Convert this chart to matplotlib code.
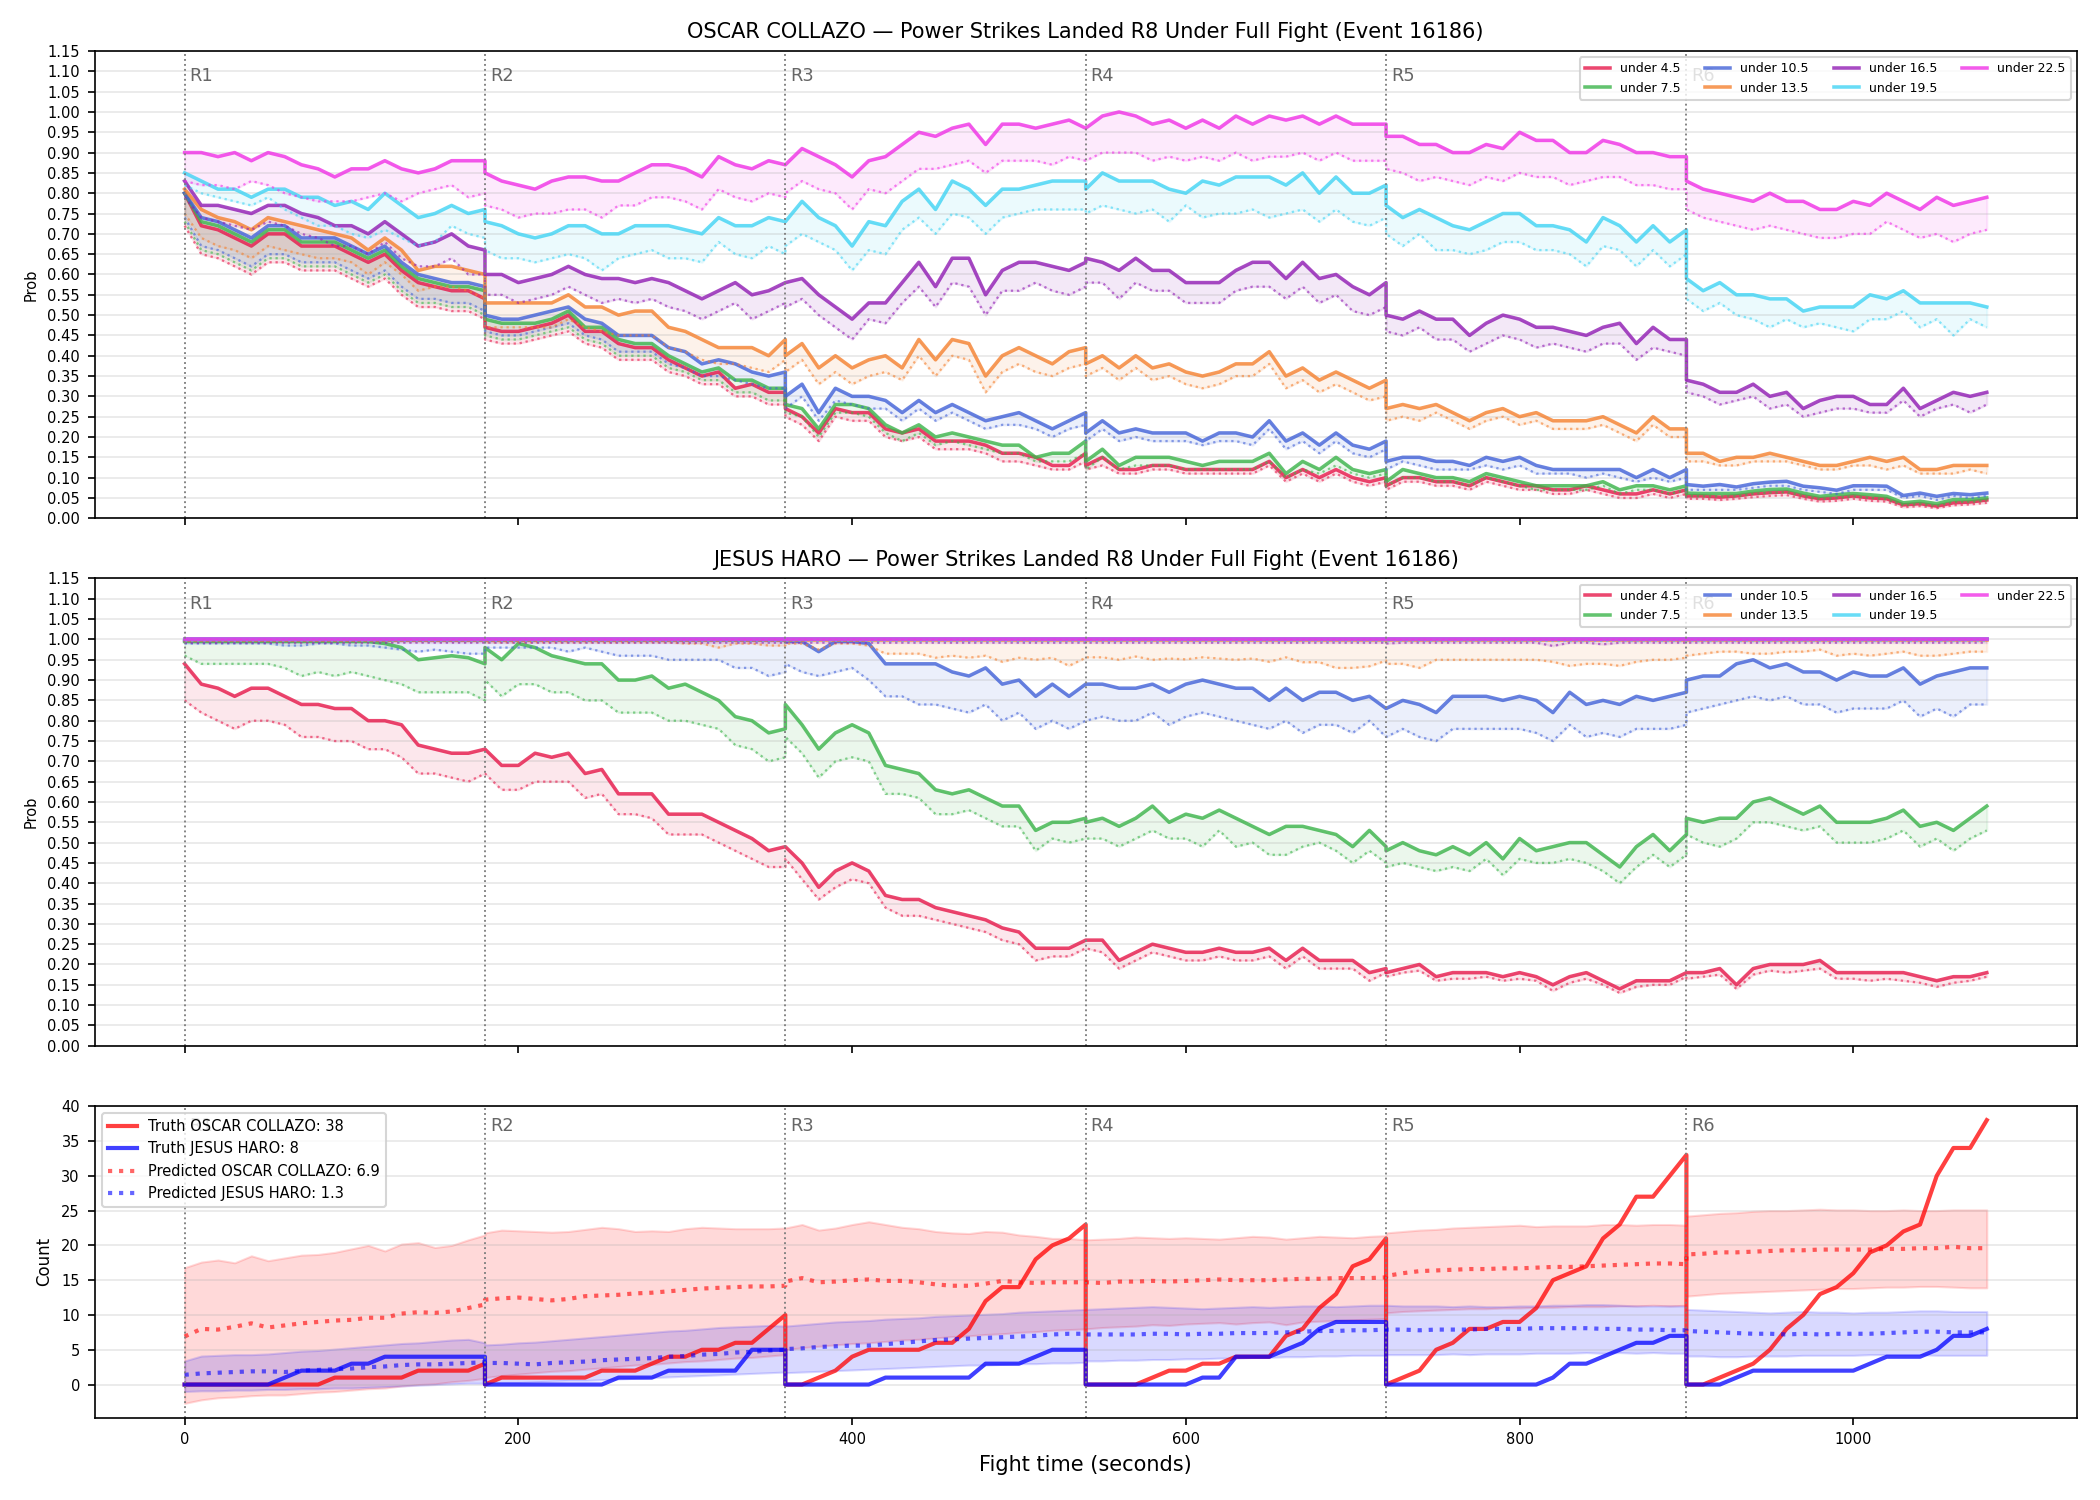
import numpy as np
import matplotlib
matplotlib.use("Agg")
import matplotlib.pyplot as plt
import matplotlib.transforms as mtransforms
from matplotlib.ticker import FormatStrFormatter

# sample times: every round is sampled 0..180 s every 10 s, restarting at the boundary
round_starts = [0, 180, 360, 540, 720, 900]
t = np.concatenate([s + np.arange(0, 181, 10) for s in round_starts])

thresholds = ["under 4.5", "under 7.5", "under 10.5", "under 13.5",
              "under 16.5", "under 19.5", "under 22.5"]
colors = ["#e6194b", "#3cb44b", "#4363d8", "#f58231", "#911eb4", "#42d4f4", "#f032e6"]

# ---------------- OSCAR COLLAZO: probability of staying under each line ----------------
oscar_u45 = [
    [0.80, 0.72, 0.71, 0.69, 0.67, 0.70, 0.70, 0.67, 0.67, 0.67, 0.65, 0.63, 0.65, 0.61, 0.58, 0.57, 0.56, 0.56, 0.54],
    [0.47, 0.46, 0.46, 0.47, 0.48, 0.50, 0.46, 0.46, 0.43, 0.42, 0.42, 0.39, 0.37, 0.35, 0.36, 0.32, 0.33, 0.31, 0.31],
    [0.27, 0.25, 0.21, 0.27, 0.26, 0.26, 0.22, 0.21, 0.22, 0.19, 0.19, 0.19, 0.18, 0.16, 0.16, 0.15, 0.13, 0.13, 0.16],
    [0.13, 0.15, 0.12, 0.12, 0.13, 0.13, 0.12, 0.12, 0.12, 0.12, 0.12, 0.14, 0.10, 0.12, 0.10, 0.12, 0.10, 0.09, 0.10],
    [0.08, 0.10, 0.10, 0.09, 0.09, 0.08, 0.10, 0.09, 0.08, 0.08, 0.07, 0.07, 0.08, 0.07, 0.06, 0.06, 0.07, 0.06, 0.07],
    [0.055, 0.055, 0.052, 0.055, 0.06, 0.063, 0.065, 0.055, 0.048, 0.05, 0.055, 0.05, 0.048, 0.033, 0.036, 0.03, 0.038, 0.04, 0.045],
]
oscar_u45_lo = [
    [0.72, 0.65, 0.64, 0.62, 0.60, 0.63, 0.63, 0.61, 0.61, 0.61, 0.59, 0.57, 0.59, 0.55, 0.52, 0.52, 0.51, 0.51, 0.49],
    [0.44, 0.43, 0.43, 0.44, 0.45, 0.46, 0.43, 0.42, 0.39, 0.39, 0.39, 0.36, 0.35, 0.33, 0.33, 0.30, 0.30, 0.28, 0.28],
    [0.25, 0.23, 0.19, 0.25, 0.24, 0.24, 0.20, 0.19, 0.20, 0.17, 0.17, 0.17, 0.16, 0.14, 0.14, 0.13, 0.12, 0.12, 0.14],
    [0.12, 0.13, 0.11, 0.11, 0.12, 0.12, 0.11, 0.11, 0.11, 0.11, 0.11, 0.13, 0.09, 0.11, 0.09, 0.11, 0.09, 0.08, 0.09],
    [0.07, 0.09, 0.09, 0.08, 0.08, 0.07, 0.09, 0.08, 0.07, 0.07, 0.06, 0.06, 0.07, 0.06, 0.05, 0.05, 0.06, 0.05, 0.06],
    [0.048, 0.048, 0.045, 0.048, 0.052, 0.055, 0.057, 0.048, 0.041, 0.043, 0.048, 0.043, 0.041, 0.027, 0.03, 0.025, 0.032, 0.034, 0.038],
]
oscar_u75 = [
    [0.80, 0.73, 0.72, 0.70, 0.68, 0.71, 0.71, 0.68, 0.68, 0.68, 0.66, 0.64, 0.66, 0.62, 0.59, 0.58, 0.57, 0.57, 0.56],
    [0.49, 0.48, 0.48, 0.48, 0.49, 0.51, 0.47, 0.47, 0.44, 0.43, 0.43, 0.40, 0.38, 0.36, 0.37, 0.34, 0.34, 0.32, 0.32],
    [0.28, 0.27, 0.22, 0.28, 0.28, 0.27, 0.23, 0.21, 0.23, 0.20, 0.21, 0.20, 0.19, 0.18, 0.18, 0.15, 0.16, 0.16, 0.19],
    [0.14, 0.17, 0.13, 0.15, 0.15, 0.15, 0.14, 0.13, 0.14, 0.14, 0.14, 0.16, 0.11, 0.14, 0.12, 0.15, 0.12, 0.11, 0.12],
    [0.09, 0.12, 0.11, 0.10, 0.10, 0.09, 0.11, 0.10, 0.09, 0.08, 0.08, 0.08, 0.08, 0.09, 0.07, 0.08, 0.08, 0.07, 0.08],
    [0.062, 0.061, 0.061, 0.061, 0.067, 0.071, 0.072, 0.062, 0.054, 0.058, 0.061, 0.058, 0.054, 0.038, 0.042, 0.036, 0.046, 0.046, 0.05],
]
oscar_u75_lo = [
    [0.73, 0.66, 0.65, 0.63, 0.61, 0.64, 0.64, 0.62, 0.62, 0.62, 0.60, 0.58, 0.60, 0.56, 0.53, 0.53, 0.52, 0.52, 0.50],
    [0.45, 0.44, 0.44, 0.45, 0.46, 0.47, 0.44, 0.43, 0.40, 0.40, 0.40, 0.37, 0.36, 0.34, 0.34, 0.31, 0.31, 0.29, 0.29],
    [0.26, 0.25, 0.20, 0.26, 0.26, 0.25, 0.21, 0.19, 0.21, 0.18, 0.19, 0.18, 0.17, 0.16, 0.16, 0.14, 0.14, 0.14, 0.16],
    [0.12, 0.15, 0.12, 0.13, 0.13, 0.13, 0.12, 0.12, 0.12, 0.12, 0.12, 0.14, 0.10, 0.12, 0.11, 0.13, 0.11, 0.10, 0.11],
    [0.08, 0.10, 0.10, 0.09, 0.09, 0.08, 0.10, 0.09, 0.08, 0.07, 0.07, 0.07, 0.07, 0.08, 0.06, 0.07, 0.07, 0.06, 0.07],
    [0.055, 0.054, 0.054, 0.054, 0.06, 0.063, 0.064, 0.055, 0.047, 0.05, 0.054, 0.05, 0.047, 0.032, 0.035, 0.03, 0.04, 0.04, 0.044],
]
oscar_u105 = [
    [0.80, 0.74, 0.73, 0.71, 0.69, 0.72, 0.72, 0.69, 0.69, 0.69, 0.67, 0.65, 0.67, 0.63, 0.60, 0.59, 0.58, 0.58, 0.57],
    [0.50, 0.49, 0.49, 0.50, 0.51, 0.52, 0.49, 0.48, 0.45, 0.45, 0.45, 0.42, 0.41, 0.38, 0.39, 0.38, 0.36, 0.35, 0.36],
    [0.30, 0.33, 0.26, 0.32, 0.30, 0.30, 0.29, 0.26, 0.29, 0.26, 0.28, 0.26, 0.24, 0.25, 0.26, 0.24, 0.22, 0.24, 0.26],
    [0.21, 0.24, 0.21, 0.22, 0.21, 0.21, 0.21, 0.19, 0.21, 0.21, 0.20, 0.24, 0.19, 0.21, 0.18, 0.21, 0.18, 0.17, 0.19],
    [0.14, 0.15, 0.15, 0.14, 0.14, 0.13, 0.15, 0.14, 0.15, 0.13, 0.12, 0.12, 0.12, 0.12, 0.12, 0.10, 0.12, 0.10, 0.12],
    [0.083, 0.079, 0.083, 0.077, 0.085, 0.089, 0.091, 0.079, 0.075, 0.069, 0.08, 0.08, 0.079, 0.056, 0.062, 0.054, 0.061, 0.058, 0.062],
]
oscar_u105_lo = [
    [0.74, 0.67, 0.66, 0.64, 0.62, 0.65, 0.65, 0.63, 0.63, 0.63, 0.61, 0.59, 0.61, 0.57, 0.54, 0.54, 0.53, 0.53, 0.51],
    [0.46, 0.45, 0.45, 0.46, 0.47, 0.48, 0.45, 0.44, 0.41, 0.41, 0.41, 0.38, 0.37, 0.35, 0.35, 0.34, 0.33, 0.32, 0.32],
    [0.27, 0.30, 0.24, 0.29, 0.28, 0.27, 0.27, 0.24, 0.27, 0.24, 0.26, 0.24, 0.22, 0.23, 0.23, 0.22, 0.20, 0.22, 0.23],
    [0.19, 0.22, 0.19, 0.20, 0.19, 0.19, 0.19, 0.18, 0.19, 0.19, 0.18, 0.22, 0.17, 0.19, 0.16, 0.19, 0.16, 0.15, 0.17],
    [0.12, 0.14, 0.13, 0.12, 0.12, 0.12, 0.13, 0.12, 0.13, 0.11, 0.11, 0.11, 0.10, 0.11, 0.10, 0.09, 0.10, 0.09, 0.10],
    [0.07, 0.07, 0.07, 0.07, 0.075, 0.08, 0.08, 0.07, 0.065, 0.06, 0.07, 0.07, 0.07, 0.05, 0.055, 0.045, 0.055, 0.05, 0.055],
]
oscar_u135 = [
    [0.81, 0.76, 0.74, 0.73, 0.71, 0.74, 0.73, 0.72, 0.71, 0.70, 0.69, 0.66, 0.69, 0.66, 0.61, 0.62, 0.62, 0.61, 0.60],
    [0.53, 0.53, 0.53, 0.53, 0.53, 0.55, 0.52, 0.52, 0.50, 0.51, 0.51, 0.47, 0.46, 0.44, 0.42, 0.42, 0.42, 0.40, 0.44],
    [0.40, 0.43, 0.37, 0.40, 0.37, 0.39, 0.40, 0.37, 0.44, 0.39, 0.44, 0.43, 0.35, 0.40, 0.42, 0.40, 0.38, 0.41, 0.42],
    [0.38, 0.40, 0.37, 0.40, 0.37, 0.38, 0.36, 0.35, 0.36, 0.38, 0.38, 0.41, 0.35, 0.37, 0.34, 0.36, 0.34, 0.32, 0.34],
    [0.27, 0.28, 0.27, 0.28, 0.26, 0.24, 0.26, 0.27, 0.25, 0.26, 0.24, 0.24, 0.24, 0.25, 0.23, 0.21, 0.25, 0.22, 0.22],
    [0.16, 0.16, 0.14, 0.15, 0.15, 0.16, 0.15, 0.14, 0.13, 0.13, 0.14, 0.15, 0.14, 0.15, 0.12, 0.12, 0.13, 0.13, 0.13],
]
oscar_u135_lo = [
    [0.75, 0.69, 0.67, 0.66, 0.64, 0.67, 0.66, 0.65, 0.64, 0.64, 0.63, 0.60, 0.63, 0.60, 0.56, 0.57, 0.57, 0.56, 0.54],
    [0.47, 0.47, 0.47, 0.47, 0.47, 0.49, 0.47, 0.46, 0.45, 0.45, 0.45, 0.42, 0.41, 0.39, 0.38, 0.38, 0.37, 0.36, 0.39],
    [0.36, 0.39, 0.33, 0.36, 0.33, 0.35, 0.36, 0.34, 0.40, 0.35, 0.40, 0.39, 0.31, 0.36, 0.38, 0.36, 0.35, 0.37, 0.38],
    [0.35, 0.37, 0.34, 0.37, 0.34, 0.35, 0.33, 0.32, 0.33, 0.35, 0.35, 0.38, 0.32, 0.34, 0.31, 0.33, 0.31, 0.29, 0.30],
    [0.24, 0.25, 0.24, 0.26, 0.24, 0.22, 0.24, 0.25, 0.23, 0.24, 0.22, 0.22, 0.22, 0.23, 0.21, 0.19, 0.23, 0.20, 0.20],
    [0.14, 0.14, 0.13, 0.13, 0.14, 0.14, 0.14, 0.13, 0.12, 0.12, 0.13, 0.13, 0.12, 0.13, 0.11, 0.11, 0.11, 0.12, 0.11],
]
oscar_u165 = [
    [0.83, 0.77, 0.77, 0.76, 0.75, 0.77, 0.77, 0.75, 0.74, 0.72, 0.72, 0.70, 0.73, 0.70, 0.67, 0.68, 0.70, 0.67, 0.66],
    [0.60, 0.60, 0.58, 0.59, 0.60, 0.62, 0.60, 0.59, 0.59, 0.58, 0.59, 0.58, 0.56, 0.54, 0.56, 0.58, 0.55, 0.56, 0.58],
    [0.58, 0.59, 0.55, 0.52, 0.49, 0.53, 0.53, 0.58, 0.63, 0.57, 0.64, 0.64, 0.55, 0.61, 0.63, 0.63, 0.62, 0.61, 0.63],
    [0.64, 0.63, 0.61, 0.64, 0.61, 0.61, 0.58, 0.58, 0.58, 0.61, 0.63, 0.63, 0.59, 0.63, 0.59, 0.60, 0.57, 0.55, 0.58],
    [0.50, 0.49, 0.51, 0.49, 0.49, 0.45, 0.48, 0.50, 0.49, 0.47, 0.47, 0.46, 0.45, 0.47, 0.48, 0.43, 0.47, 0.44, 0.44],
    [0.34, 0.33, 0.31, 0.31, 0.33, 0.30, 0.31, 0.27, 0.29, 0.30, 0.30, 0.28, 0.28, 0.32, 0.27, 0.29, 0.31, 0.30, 0.31],
]
oscar_u165_lo = [
    [0.79, 0.74, 0.73, 0.72, 0.71, 0.73, 0.72, 0.70, 0.69, 0.67, 0.67, 0.65, 0.68, 0.64, 0.62, 0.62, 0.64, 0.60, 0.60],
    [0.55, 0.55, 0.53, 0.54, 0.55, 0.57, 0.55, 0.53, 0.54, 0.53, 0.54, 0.52, 0.51, 0.49, 0.51, 0.53, 0.49, 0.51, 0.53],
    [0.52, 0.54, 0.50, 0.47, 0.44, 0.49, 0.48, 0.53, 0.57, 0.52, 0.58, 0.57, 0.50, 0.56, 0.56, 0.58, 0.56, 0.55, 0.57],
    [0.58, 0.58, 0.54, 0.58, 0.56, 0.56, 0.53, 0.53, 0.53, 0.56, 0.57, 0.57, 0.54, 0.57, 0.53, 0.55, 0.51, 0.50, 0.52],
    [0.46, 0.45, 0.47, 0.44, 0.44, 0.41, 0.43, 0.45, 0.44, 0.42, 0.43, 0.42, 0.41, 0.43, 0.43, 0.39, 0.42, 0.41, 0.40],
    [0.31, 0.30, 0.28, 0.29, 0.30, 0.27, 0.28, 0.25, 0.26, 0.27, 0.27, 0.26, 0.26, 0.29, 0.25, 0.27, 0.28, 0.26, 0.28],
]
oscar_u195 = [
    [0.85, 0.83, 0.81, 0.81, 0.79, 0.81, 0.81, 0.79, 0.79, 0.77, 0.78, 0.76, 0.80, 0.77, 0.74, 0.75, 0.77, 0.75, 0.76],
    [0.73, 0.72, 0.70, 0.69, 0.70, 0.72, 0.72, 0.70, 0.70, 0.72, 0.72, 0.72, 0.71, 0.70, 0.74, 0.72, 0.72, 0.74, 0.73],
    [0.73, 0.78, 0.74, 0.72, 0.67, 0.73, 0.72, 0.78, 0.81, 0.76, 0.83, 0.81, 0.77, 0.81, 0.81, 0.82, 0.83, 0.83, 0.83],
    [0.81, 0.85, 0.83, 0.83, 0.83, 0.81, 0.80, 0.83, 0.82, 0.84, 0.84, 0.84, 0.82, 0.85, 0.80, 0.84, 0.80, 0.80, 0.82],
    [0.77, 0.74, 0.76, 0.74, 0.72, 0.71, 0.73, 0.75, 0.75, 0.72, 0.72, 0.71, 0.68, 0.74, 0.72, 0.68, 0.72, 0.68, 0.71],
    [0.59, 0.56, 0.58, 0.55, 0.55, 0.54, 0.54, 0.51, 0.52, 0.52, 0.52, 0.55, 0.54, 0.56, 0.53, 0.53, 0.53, 0.53, 0.52],
]
oscar_u195_lo = [
    [0.82, 0.80, 0.79, 0.78, 0.77, 0.79, 0.76, 0.74, 0.72, 0.72, 0.70, 0.69, 0.71, 0.69, 0.67, 0.68, 0.72, 0.70, 0.69],
    [0.66, 0.64, 0.64, 0.63, 0.64, 0.65, 0.64, 0.61, 0.64, 0.65, 0.66, 0.64, 0.64, 0.63, 0.68, 0.65, 0.64, 0.67, 0.65],
    [0.67, 0.70, 0.68, 0.66, 0.61, 0.66, 0.65, 0.71, 0.74, 0.70, 0.75, 0.74, 0.70, 0.74, 0.75, 0.76, 0.76, 0.76, 0.76],
    [0.75, 0.77, 0.76, 0.75, 0.76, 0.73, 0.77, 0.74, 0.75, 0.75, 0.76, 0.74, 0.75, 0.76, 0.73, 0.76, 0.73, 0.72, 0.74],
    [0.70, 0.67, 0.70, 0.66, 0.66, 0.65, 0.66, 0.68, 0.68, 0.66, 0.66, 0.65, 0.62, 0.67, 0.66, 0.62, 0.66, 0.62, 0.65],
    [0.54, 0.51, 0.53, 0.50, 0.49, 0.47, 0.49, 0.47, 0.48, 0.47, 0.46, 0.49, 0.49, 0.51, 0.47, 0.49, 0.45, 0.49, 0.47],
]
oscar_u225 = [
    [0.90, 0.90, 0.89, 0.90, 0.88, 0.90, 0.89, 0.87, 0.86, 0.84, 0.86, 0.86, 0.88, 0.86, 0.85, 0.86, 0.88, 0.88, 0.88],
    [0.85, 0.83, 0.82, 0.81, 0.83, 0.84, 0.84, 0.83, 0.83, 0.85, 0.87, 0.87, 0.86, 0.84, 0.89, 0.87, 0.86, 0.88, 0.87],
    [0.87, 0.91, 0.89, 0.87, 0.84, 0.88, 0.89, 0.92, 0.95, 0.94, 0.96, 0.97, 0.92, 0.97, 0.97, 0.96, 0.97, 0.98, 0.96],
    [0.96, 0.99, 1.00, 0.99, 0.97, 0.98, 0.96, 0.98, 0.96, 0.99, 0.97, 0.99, 0.98, 0.99, 0.97, 0.99, 0.97, 0.97, 0.97],
    [0.94, 0.94, 0.92, 0.92, 0.90, 0.90, 0.92, 0.91, 0.95, 0.93, 0.93, 0.90, 0.90, 0.93, 0.92, 0.90, 0.90, 0.89, 0.89],
    [0.83, 0.81, 0.80, 0.79, 0.78, 0.80, 0.78, 0.78, 0.76, 0.76, 0.78, 0.77, 0.80, 0.78, 0.76, 0.79, 0.77, 0.78, 0.79],
]
oscar_u225_lo = [
    [0.83, 0.82, 0.82, 0.81, 0.83, 0.82, 0.80, 0.79, 0.78, 0.78, 0.78, 0.79, 0.80, 0.78, 0.80, 0.81, 0.82, 0.79, 0.80],
    [0.77, 0.76, 0.74, 0.75, 0.75, 0.76, 0.76, 0.74, 0.77, 0.77, 0.79, 0.79, 0.78, 0.76, 0.81, 0.79, 0.78, 0.80, 0.79],
    [0.80, 0.83, 0.81, 0.80, 0.76, 0.81, 0.80, 0.83, 0.86, 0.86, 0.87, 0.88, 0.85, 0.88, 0.88, 0.88, 0.87, 0.89, 0.88],
    [0.88, 0.90, 0.90, 0.90, 0.88, 0.89, 0.88, 0.89, 0.88, 0.90, 0.88, 0.89, 0.89, 0.90, 0.88, 0.90, 0.88, 0.88, 0.88],
    [0.86, 0.85, 0.83, 0.84, 0.83, 0.82, 0.84, 0.83, 0.85, 0.84, 0.84, 0.82, 0.83, 0.84, 0.84, 0.82, 0.82, 0.81, 0.81],
    [0.76, 0.74, 0.73, 0.72, 0.71, 0.72, 0.71, 0.70, 0.69, 0.69, 0.70, 0.70, 0.73, 0.71, 0.69, 0.70, 0.68, 0.70, 0.71],
]

# ---------------- JESUS HARO ----------------
haro_u45 = [
    [0.94, 0.89, 0.88, 0.86, 0.88, 0.88, 0.86, 0.84, 0.84, 0.83, 0.83, 0.80, 0.80, 0.79, 0.74, 0.73, 0.72, 0.72, 0.73],
    [0.73, 0.69, 0.69, 0.72, 0.71, 0.72, 0.67, 0.68, 0.62, 0.62, 0.62, 0.57, 0.57, 0.57, 0.55, 0.53, 0.51, 0.48, 0.49],
    [0.49, 0.45, 0.39, 0.43, 0.45, 0.43, 0.37, 0.36, 0.36, 0.34, 0.33, 0.32, 0.31, 0.29, 0.28, 0.24, 0.24, 0.24, 0.26],
    [0.26, 0.26, 0.21, 0.23, 0.25, 0.24, 0.23, 0.23, 0.24, 0.23, 0.23, 0.24, 0.21, 0.24, 0.21, 0.21, 0.21, 0.18, 0.19],
    [0.18, 0.19, 0.20, 0.17, 0.18, 0.18, 0.18, 0.17, 0.18, 0.17, 0.15, 0.17, 0.18, 0.16, 0.14, 0.16, 0.16, 0.16, 0.18],
    [0.18, 0.18, 0.19, 0.15, 0.19, 0.20, 0.20, 0.20, 0.21, 0.18, 0.18, 0.18, 0.18, 0.18, 0.17, 0.16, 0.17, 0.17, 0.18],
]
haro_u45_lo = [
    [0.85, 0.82, 0.80, 0.78, 0.80, 0.80, 0.79, 0.76, 0.76, 0.75, 0.75, 0.73, 0.73, 0.71, 0.67, 0.67, 0.66, 0.65, 0.67],
    [0.67, 0.63, 0.63, 0.65, 0.65, 0.65, 0.61, 0.62, 0.57, 0.57, 0.56, 0.52, 0.52, 0.52, 0.50, 0.48, 0.46, 0.44, 0.44],
    [0.46, 0.41, 0.36, 0.39, 0.41, 0.40, 0.34, 0.32, 0.32, 0.31, 0.30, 0.29, 0.28, 0.26, 0.25, 0.21, 0.22, 0.22, 0.24],
    [0.24, 0.23, 0.19, 0.21, 0.23, 0.22, 0.21, 0.21, 0.22, 0.21, 0.21, 0.22, 0.19, 0.22, 0.19, 0.19, 0.19, 0.16, 0.18],
    [0.17, 0.18, 0.185, 0.16, 0.165, 0.165, 0.17, 0.16, 0.165, 0.16, 0.135, 0.155, 0.165, 0.15, 0.13, 0.145, 0.15, 0.15, 0.17],
    [0.165, 0.17, 0.175, 0.14, 0.175, 0.185, 0.18, 0.185, 0.19, 0.165, 0.165, 0.16, 0.165, 0.16, 0.155, 0.145, 0.155, 0.16, 0.17],
]
haro_u75 = [
    [0.995, 0.995, 0.995, 0.995, 0.995, 0.995, 0.995, 0.995, 0.995, 0.995, 0.995, 0.995, 0.99, 0.98, 0.95, 0.955, 0.96, 0.955, 0.94],
    [0.98, 0.95, 0.99, 0.98, 0.96, 0.95, 0.94, 0.94, 0.90, 0.90, 0.91, 0.88, 0.89, 0.87, 0.85, 0.81, 0.80, 0.77, 0.78],
    [0.84, 0.79, 0.73, 0.77, 0.79, 0.77, 0.69, 0.68, 0.67, 0.63, 0.62, 0.63, 0.61, 0.59, 0.59, 0.53, 0.55, 0.55, 0.56],
    [0.55, 0.56, 0.54, 0.56, 0.59, 0.55, 0.57, 0.56, 0.58, 0.56, 0.54, 0.52, 0.54, 0.54, 0.53, 0.52, 0.49, 0.53, 0.49],
    [0.48, 0.50, 0.48, 0.47, 0.49, 0.47, 0.50, 0.46, 0.51, 0.48, 0.49, 0.50, 0.50, 0.47, 0.44, 0.49, 0.52, 0.48, 0.52],
    [0.56, 0.55, 0.56, 0.56, 0.60, 0.61, 0.59, 0.57, 0.59, 0.55, 0.55, 0.55, 0.56, 0.58, 0.54, 0.55, 0.53, 0.56, 0.59],
]
haro_u75_lo = [
    [0.96, 0.94, 0.94, 0.94, 0.94, 0.94, 0.93, 0.91, 0.92, 0.91, 0.92, 0.91, 0.90, 0.89, 0.87, 0.87, 0.87, 0.87, 0.85],
    [0.90, 0.86, 0.89, 0.89, 0.87, 0.87, 0.85, 0.85, 0.82, 0.82, 0.82, 0.80, 0.80, 0.79, 0.78, 0.74, 0.73, 0.70, 0.71],
    [0.76, 0.72, 0.66, 0.70, 0.71, 0.70, 0.62, 0.62, 0.61, 0.57, 0.57, 0.58, 0.56, 0.54, 0.54, 0.48, 0.51, 0.50, 0.51],
    [0.51, 0.51, 0.49, 0.51, 0.53, 0.51, 0.51, 0.49, 0.53, 0.49, 0.50, 0.47, 0.47, 0.49, 0.50, 0.48, 0.45, 0.48, 0.45],
    [0.44, 0.45, 0.44, 0.43, 0.44, 0.43, 0.46, 0.42, 0.46, 0.45, 0.45, 0.46, 0.45, 0.43, 0.40, 0.44, 0.47, 0.44, 0.47],
    [0.52, 0.50, 0.49, 0.51, 0.55, 0.55, 0.54, 0.53, 0.54, 0.50, 0.50, 0.50, 0.51, 0.53, 0.49, 0.51, 0.48, 0.51, 0.53],
]
haro_u105 = [
    [0.998, 0.998, 0.998, 0.998, 0.998, 0.998, 0.998, 0.998, 0.998, 0.998, 0.998, 0.998, 0.998, 0.998, 0.998, 0.998, 0.998, 0.998, 0.998],
    [0.998, 0.998, 0.998, 0.998, 0.998, 0.998, 0.998, 0.998, 0.998, 0.998, 0.998, 0.998, 0.998, 0.998, 0.998, 0.998, 0.998, 0.998, 0.998],
    [0.995, 0.995, 0.97, 0.995, 0.995, 0.99, 0.94, 0.94, 0.94, 0.94, 0.92, 0.91, 0.93, 0.89, 0.90, 0.86, 0.89, 0.86, 0.89],
    [0.89, 0.89, 0.88, 0.88, 0.89, 0.87, 0.89, 0.90, 0.89, 0.88, 0.88, 0.85, 0.88, 0.85, 0.87, 0.87, 0.85, 0.86, 0.83],
    [0.83, 0.85, 0.84, 0.82, 0.86, 0.86, 0.86, 0.85, 0.86, 0.85, 0.82, 0.87, 0.84, 0.85, 0.84, 0.86, 0.85, 0.86, 0.87],
    [0.90, 0.91, 0.91, 0.94, 0.95, 0.93, 0.94, 0.92, 0.92, 0.90, 0.92, 0.91, 0.91, 0.93, 0.89, 0.91, 0.92, 0.93, 0.93],
]
haro_u105_lo = [
    [0.99, 0.99, 0.99, 0.99, 0.99, 0.99, 0.985, 0.985, 0.99, 0.99, 0.985, 0.985, 0.98, 0.975, 0.97, 0.975, 0.97, 0.965, 0.965],
    [0.98, 0.98, 0.98, 0.98, 0.98, 0.97, 0.98, 0.97, 0.96, 0.96, 0.96, 0.95, 0.95, 0.95, 0.95, 0.93, 0.93, 0.91, 0.92],
    [0.94, 0.92, 0.91, 0.92, 0.93, 0.90, 0.86, 0.86, 0.84, 0.84, 0.83, 0.82, 0.84, 0.80, 0.82, 0.78, 0.80, 0.78, 0.80],
    [0.80, 0.81, 0.80, 0.80, 0.82, 0.79, 0.81, 0.82, 0.81, 0.80, 0.79, 0.78, 0.80, 0.77, 0.79, 0.79, 0.77, 0.80, 0.76],
    [0.76, 0.78, 0.76, 0.75, 0.78, 0.78, 0.78, 0.78, 0.78, 0.77, 0.75, 0.79, 0.76, 0.77, 0.76, 0.78, 0.78, 0.78, 0.79],
    [0.82, 0.83, 0.84, 0.85, 0.86, 0.85, 0.86, 0.84, 0.84, 0.82, 0.83, 0.83, 0.83, 0.85, 0.81, 0.83, 0.81, 0.84, 0.84],
]
haro_u135 = [
    [0.999, 0.999, 0.999, 0.999, 0.999, 0.999, 0.999, 0.999, 0.999, 0.999, 0.999, 0.999, 0.999, 0.999, 0.999, 0.999, 0.999, 0.999, 0.999],
    [0.999, 0.999, 0.999, 0.999, 0.999, 0.999, 0.999, 0.999, 0.999, 0.999, 0.999, 0.999, 0.999, 0.999, 0.999, 0.999, 0.999, 0.999, 0.999],
    [0.999, 0.999, 0.999, 0.999, 0.999, 0.999, 0.999, 0.999, 0.999, 0.999, 0.999, 0.999, 0.999, 0.999, 0.999, 0.999, 0.999, 0.999, 0.999],
    [0.999, 0.999, 0.999, 0.999, 0.999, 0.999, 0.999, 0.999, 0.999, 0.999, 0.999, 0.999, 0.999, 0.999, 0.999, 0.999, 0.999, 0.999, 0.999],
    [0.999, 0.999, 0.999, 0.999, 0.999, 0.999, 0.999, 0.999, 0.999, 0.999, 0.999, 0.999, 0.999, 0.999, 0.999, 0.999, 0.999, 0.999, 0.999],
    [0.999, 0.999, 0.999, 0.999, 0.999, 0.999, 0.999, 0.999, 0.999, 0.999, 0.999, 0.999, 0.999, 0.999, 0.999, 0.999, 0.999, 0.999, 0.999],
]
haro_u135_lo = [
    [0.995, 0.995, 0.995, 0.995, 0.995, 0.995, 0.995, 0.995, 0.995, 0.995, 0.995, 0.995, 0.995, 0.995, 0.995, 0.995, 0.995, 0.995, 0.995],
    [0.993, 0.993, 0.993, 0.993, 0.993, 0.993, 0.993, 0.993, 0.993, 0.993, 0.993, 0.993, 0.99, 0.99, 0.98, 0.99, 0.99, 0.985, 0.985],
    [0.99, 0.99, 0.975, 0.99, 0.99, 0.985, 0.965, 0.965, 0.965, 0.955, 0.96, 0.955, 0.96, 0.945, 0.955, 0.95, 0.955, 0.935, 0.955],
    [0.956, 0.956, 0.95, 0.958, 0.95, 0.953, 0.951, 0.956, 0.953, 0.95, 0.953, 0.945, 0.956, 0.944, 0.944, 0.93, 0.93, 0.934, 0.948],
    [0.94, 0.94, 0.93, 0.95, 0.95, 0.95, 0.95, 0.95, 0.95, 0.95, 0.945, 0.935, 0.94, 0.94, 0.935, 0.945, 0.95, 0.95, 0.955],
    [0.96, 0.965, 0.97, 0.97, 0.965, 0.965, 0.97, 0.97, 0.975, 0.96, 0.965, 0.96, 0.965, 0.97, 0.96, 0.96, 0.965, 0.97, 0.97],
]
haro_u165 = [
    [1.0, 1.0, 1.0, 1.0, 1.0, 1.0, 1.0, 1.0, 1.0, 1.0, 1.0, 1.0, 1.0, 1.0, 1.0, 1.0, 1.0, 1.0, 1.0],
    [1.0, 1.0, 1.0, 1.0, 1.0, 1.0, 1.0, 1.0, 1.0, 1.0, 1.0, 1.0, 1.0, 1.0, 1.0, 1.0, 1.0, 1.0, 1.0],
    [1.0, 1.0, 1.0, 1.0, 1.0, 1.0, 1.0, 1.0, 1.0, 1.0, 1.0, 1.0, 1.0, 1.0, 1.0, 1.0, 1.0, 1.0, 1.0],
    [1.0, 1.0, 1.0, 1.0, 1.0, 1.0, 1.0, 1.0, 1.0, 1.0, 1.0, 1.0, 1.0, 1.0, 1.0, 1.0, 1.0, 1.0, 1.0],
    [1.0, 1.0, 1.0, 1.0, 1.0, 1.0, 1.0, 1.0, 1.0, 1.0, 1.0, 1.0, 1.0, 1.0, 1.0, 1.0, 1.0, 1.0, 1.0],
    [1.0, 1.0, 1.0, 1.0, 1.0, 1.0, 1.0, 1.0, 1.0, 1.0, 1.0, 1.0, 1.0, 1.0, 1.0, 1.0, 1.0, 1.0, 1.0],
]
haro_u165_lo = [
    [0.992, 0.992, 0.992, 0.992, 0.992, 0.992, 0.992, 0.992, 0.992, 0.992, 0.992, 0.992, 0.992, 0.992, 0.992, 0.992, 0.992, 0.992, 0.992],
    [0.992, 0.992, 0.992, 0.992, 0.992, 0.992, 0.992, 0.992, 0.992, 0.992, 0.992, 0.992, 0.992, 0.992, 0.992, 0.992, 0.992, 0.992, 0.992],
    [0.992, 0.992, 0.992, 0.992, 0.992, 0.992, 0.992, 0.992, 0.992, 0.992, 0.992, 0.992, 0.992, 0.992, 0.992, 0.992, 0.992, 0.992, 0.992],
    [0.992, 0.992, 0.992, 0.992, 0.992, 0.992, 0.992, 0.992, 0.992, 0.992, 0.992, 0.992, 0.992, 0.992, 0.992, 0.992, 0.992, 0.992, 0.992],
    [0.99, 0.992, 0.992, 0.992, 0.992, 0.992, 0.992, 0.992, 0.992, 0.992, 0.984, 0.992, 0.992, 0.988, 0.992, 0.992, 0.992, 0.992, 0.992],
    [0.992, 0.992, 0.992, 0.992, 0.992, 0.992, 0.992, 0.992, 0.992, 0.992, 0.992, 0.992, 0.992, 0.992, 0.992, 0.992, 0.992, 0.992, 0.992],
]
haro_u195 = [
    [1.0, 1.0, 1.0, 1.0, 1.0, 1.0, 1.0, 1.0, 1.0, 1.0, 1.0, 1.0, 1.0, 1.0, 1.0, 1.0, 1.0, 1.0, 1.0],
    [1.0, 1.0, 1.0, 1.0, 1.0, 1.0, 1.0, 1.0, 1.0, 1.0, 1.0, 1.0, 1.0, 1.0, 1.0, 1.0, 1.0, 1.0, 1.0],
    [1.0, 1.0, 1.0, 1.0, 1.0, 1.0, 1.0, 1.0, 1.0, 1.0, 1.0, 1.0, 1.0, 1.0, 1.0, 1.0, 1.0, 1.0, 1.0],
    [1.0, 1.0, 1.0, 1.0, 1.0, 1.0, 1.0, 1.0, 1.0, 1.0, 1.0, 1.0, 1.0, 1.0, 1.0, 1.0, 1.0, 1.0, 1.0],
    [1.0, 1.0, 1.0, 1.0, 1.0, 1.0, 1.0, 1.0, 1.0, 1.0, 1.0, 1.0, 1.0, 1.0, 1.0, 1.0, 1.0, 1.0, 1.0],
    [1.0, 1.0, 1.0, 1.0, 1.0, 1.0, 1.0, 1.0, 1.0, 1.0, 1.0, 1.0, 1.0, 1.0, 1.0, 1.0, 1.0, 1.0, 1.0],
]
haro_u195_lo = [
    [0.996, 0.996, 0.996, 0.996, 0.996, 0.996, 0.996, 0.996, 0.996, 0.996, 0.996, 0.996, 0.996, 0.996, 0.996, 0.996, 0.996, 0.996, 0.996],
    [0.996, 0.996, 0.996, 0.996, 0.996, 0.996, 0.996, 0.996, 0.996, 0.996, 0.996, 0.996, 0.996, 0.996, 0.996, 0.996, 0.996, 0.996, 0.996],
    [0.996, 0.996, 0.996, 0.996, 0.996, 0.996, 0.996, 0.996, 0.996, 0.996, 0.996, 0.996, 0.996, 0.996, 0.996, 0.996, 0.996, 0.996, 0.996],
    [0.996, 0.996, 0.996, 0.996, 0.996, 0.996, 0.996, 0.996, 0.996, 0.996, 0.996, 0.996, 0.996, 0.996, 0.996, 0.996, 0.996, 0.996, 0.996],
    [0.996, 0.996, 0.996, 0.996, 0.996, 0.996, 0.996, 0.996, 0.996, 0.996, 0.996, 0.996, 0.996, 0.996, 0.996, 0.996, 0.996, 0.996, 0.996],
    [0.996, 0.996, 0.996, 0.996, 0.996, 0.996, 0.996, 0.996, 0.996, 0.996, 0.996, 0.996, 0.996, 0.996, 0.996, 0.996, 0.996, 0.996, 0.996],
]
haro_u225 = [
    [1.0, 1.0, 1.0, 1.0, 1.0, 1.0, 1.0, 1.0, 1.0, 1.0, 1.0, 1.0, 1.0, 1.0, 1.0, 1.0, 1.0, 1.0, 1.0],
    [1.0, 1.0, 1.0, 1.0, 1.0, 1.0, 1.0, 1.0, 1.0, 1.0, 1.0, 1.0, 1.0, 1.0, 1.0, 1.0, 1.0, 1.0, 1.0],
    [1.0, 1.0, 1.0, 1.0, 1.0, 1.0, 1.0, 1.0, 1.0, 1.0, 1.0, 1.0, 1.0, 1.0, 1.0, 1.0, 1.0, 1.0, 1.0],
    [1.0, 1.0, 1.0, 1.0, 1.0, 1.0, 1.0, 1.0, 1.0, 1.0, 1.0, 1.0, 1.0, 1.0, 1.0, 1.0, 1.0, 1.0, 1.0],
    [1.0, 1.0, 1.0, 1.0, 1.0, 1.0, 1.0, 1.0, 1.0, 1.0, 1.0, 1.0, 1.0, 1.0, 1.0, 1.0, 1.0, 1.0, 1.0],
    [1.0, 1.0, 1.0, 1.0, 1.0, 1.0, 1.0, 1.0, 1.0, 1.0, 1.0, 1.0, 1.0, 1.0, 1.0, 1.0, 1.0, 1.0, 1.0],
]
haro_u225_lo = [
    [0.998, 0.998, 0.998, 0.998, 0.998, 0.998, 0.998, 0.998, 0.998, 0.998, 0.998, 0.998, 0.998, 0.998, 0.998, 0.998, 0.998, 0.998, 0.998],
    [0.998, 0.998, 0.998, 0.998, 0.998, 0.998, 0.998, 0.998, 0.998, 0.998, 0.998, 0.998, 0.998, 0.998, 0.998, 0.998, 0.998, 0.998, 0.998],
    [0.998, 0.998, 0.998, 0.998, 0.998, 0.998, 0.998, 0.998, 0.998, 0.998, 0.998, 0.998, 0.998, 0.998, 0.998, 0.998, 0.998, 0.998, 0.998],
    [0.998, 0.998, 0.998, 0.998, 0.998, 0.998, 0.998, 0.998, 0.998, 0.998, 0.998, 0.998, 0.998, 0.998, 0.998, 0.998, 0.998, 0.998, 0.998],
    [0.998, 0.998, 0.998, 0.998, 0.998, 0.998, 0.998, 0.998, 0.998, 0.998, 0.998, 0.998, 0.998, 0.998, 0.998, 0.998, 0.998, 0.998, 0.998],
    [0.998, 0.998, 0.998, 0.998, 0.998, 0.998, 0.998, 0.998, 0.998, 0.998, 0.998, 0.998, 0.998, 0.998, 0.998, 0.998, 0.998, 0.998, 0.998],
]

# ---------------- counts: truth (reset every round) and predicted band ----------------
truth_oscar = [
    [0, 0, 0, 0, 0, 0, 0, 0, 0, 1, 1, 1, 1, 1, 2, 2, 2, 2, 3],
    [0, 1, 1, 1, 1, 1, 1, 2, 2, 2, 3, 4, 4, 5, 5, 6, 6, 8, 10],
    [0, 0, 1, 2, 4, 5, 5, 5, 5, 6, 6, 8, 12, 14, 14, 18, 20, 21, 23],
    [0, 0, 0, 0, 1, 2, 2, 3, 3, 4, 4, 4, 7, 8, 11, 13, 17, 18, 21],
    [0, 1, 2, 5, 6, 8, 8, 9, 9, 11, 15, 16, 17, 21, 23, 27, 27, 30, 33],
    [0, 0, 1, 2, 3, 5, 8, 10, 13, 14, 16, 19, 20, 22, 23, 30, 34, 34, 38],
]
truth_haro = [
    [0, 0, 0, 0, 0, 0, 1, 2, 2, 2, 3, 3, 4, 4, 4, 4, 4, 4, 4],
    [0, 0, 0, 0, 0, 0, 0, 0, 1, 1, 1, 2, 2, 2, 2, 2, 5, 5, 5],
    [0, 0, 0, 0, 0, 0, 1, 1, 1, 1, 1, 1, 3, 3, 3, 4, 5, 5, 5],
    [0, 0, 0, 0, 0, 0, 0, 1, 1, 4, 4, 4, 5, 6, 8, 9, 9, 9, 9],
    [0, 0, 0, 0, 0, 0, 0, 0, 0, 0, 1, 3, 3, 4, 5, 6, 6, 7, 7],
    [0, 0, 0, 1, 2, 2, 2, 2, 2, 2, 2, 3, 4, 4, 4, 5, 7, 7, 8],
]
pred_oscar = [
    [6.9, 8.0, 7.9, 8.3, 8.8, 8.2, 8.5, 8.8, 9.0, 9.2, 9.3, 9.6, 9.6, 10.2, 10.4, 10.3, 10.5, 11.0, 11.5],
    [12.2, 12.4, 12.5, 12.3, 12.1, 12.3, 12.7, 12.8, 12.9, 13.1, 13.2, 13.4, 13.6, 13.8, 13.9, 14.0, 14.1, 14.1, 14.2],
    [14.8, 15.3, 14.7, 14.8, 15.0, 15.1, 14.9, 14.9, 14.7, 14.4, 14.2, 14.2, 14.5, 14.9, 14.7, 14.6, 14.7, 14.7, 14.7],
    [14.7, 14.6, 14.8, 14.8, 14.9, 14.8, 14.9, 15.0, 15.1, 15.0, 15.0, 15.0, 15.1, 15.2, 15.2, 15.3, 15.3, 15.3, 15.4],
    [15.6, 16.0, 16.3, 16.4, 16.5, 16.6, 16.6, 16.7, 16.7, 16.8, 16.9, 16.9, 17.0, 17.1, 17.2, 17.3, 17.4, 17.4, 17.3],
    [18.7, 18.8, 19.0, 19.0, 19.1, 19.2, 19.3, 19.3, 19.4, 19.4, 19.4, 19.4, 19.5, 19.5, 19.6, 19.6, 19.8, 19.6, 19.6],
]
pred_oscar_hi = [
    [16.8, 17.6, 17.9, 17.5, 18.5, 17.8, 18.2, 18.6, 18.7, 19.0, 19.5, 20.0, 19.2, 20.2, 20.4, 19.7, 20.0, 20.8, 21.5],
    [21.8, 22.2, 22.1, 22.0, 21.9, 22.0, 22.3, 22.6, 22.4, 22.0, 22.1, 22.0, 22.4, 22.6, 22.5, 22.4, 22.4, 22.4, 22.5],
    [22.5, 23.0, 22.2, 22.5, 23.0, 23.4, 23.0, 22.6, 22.4, 22.0, 21.8, 21.7, 22.0, 21.9, 21.5, 21.3, 21.0, 21.0, 20.8],
    [20.8, 20.9, 21.0, 21.2, 21.1, 21.0, 21.1, 21.0, 20.9, 21.1, 21.3, 21.2, 20.9, 21.1, 21.3, 21.2, 21.1, 21.3, 21.4],
    [21.8, 22.0, 22.2, 22.3, 22.5, 22.6, 22.7, 22.8, 22.9, 22.7, 22.8, 22.8, 22.8, 23.0, 23.0, 22.9, 23.0, 23.0, 22.9],
    [24.2, 24.4, 24.6, 24.7, 24.9, 25.0, 25.0, 25.1, 25.2, 25.1, 25.1, 25.0, 25.0, 25.1, 25.0, 25.0, 25.1, 25.1, 25.1],
]
pred_oscar_lo = [
    [-2.7, -2.2, -1.9, -1.8, -1.6, -1.5, -1.5, -1.3, -1.1, -1.0, -0.8, -0.6, -0.5, -0.2, 0.0, 0.1, 0.4, 0.6, 0.9],
    [1.0, 1.3, 1.5, 1.7, 1.9, 2.0, 2.2, 2.4, 2.6, 2.8, 2.9, 3.1, 3.3, 3.4, 3.6, 3.8, 3.9, 4.1, 4.3],
    [5.0, 5.3, 5.5, 5.7, 5.9, 6.0, 6.2, 6.4, 6.5, 6.7, 6.9, 7.0, 7.2, 7.3, 7.5, 7.6, 7.8, 7.9, 8.0],
    [8.0, 8.2, 8.3, 8.4, 8.6, 8.5, 8.7, 8.8, 8.9, 8.7, 8.9, 9.0, 8.6, 9.0, 9.1, 9.2, 9.3, 9.4, 9.5],
    [10.3, 10.5, 10.6, 10.7, 10.8, 10.9, 10.9, 11.0, 11.0, 11.1, 11.1, 11.2, 11.2, 11.2, 11.3, 11.3, 11.4, 11.3, 11.4],
    [12.7, 12.9, 13.1, 13.2, 13.3, 13.4, 13.5, 13.6, 13.7, 13.8, 13.8, 13.9, 14.0, 14.0, 14.1, 14.1, 14.0, 13.9, 13.9],
]
pred_haro = [
    [1.4, 1.6, 1.7, 1.8, 1.9, 1.9, 1.8, 2.0, 2.1, 2.2, 2.3, 2.5, 2.6, 2.8, 2.9, 2.9, 3.0, 3.1, 3.2],
    [3.1, 3.1, 3.0, 2.9, 3.1, 3.2, 3.3, 3.5, 3.6, 3.7, 3.8, 4.0, 4.1, 4.3, 4.4, 4.6, 4.7, 4.9, 5.0],
    [5.1, 5.2, 5.4, 5.5, 5.6, 5.6, 5.8, 6.0, 6.2, 6.4, 6.5, 6.6, 6.7, 6.8, 6.9, 7.0, 7.2, 7.3, 7.3],
    [7.2, 7.2, 7.2, 7.2, 7.3, 7.3, 7.2, 7.3, 7.3, 7.4, 7.4, 7.4, 7.5, 7.6, 7.7, 7.7, 7.8, 7.8, 7.9],
    [7.9, 7.9, 7.8, 7.9, 7.9, 7.9, 8.0, 8.0, 8.0, 8.1, 8.1, 8.1, 8.1, 8.0, 8.0, 7.9, 7.9, 7.8, 7.8],
    [7.7, 7.6, 7.5, 7.4, 7.3, 7.3, 7.2, 7.3, 7.2, 7.3, 7.3, 7.3, 7.4, 7.5, 7.6, 7.6, 7.5, 7.5, 7.5],
]
pred_haro_hi = [
    [3.4, 4.1, 4.2, 4.3, 4.3, 4.4, 4.6, 4.8, 4.9, 5.1, 5.3, 5.5, 5.7, 5.9, 6.0, 6.2, 6.4, 6.5, 6.0],
    [5.7, 5.8, 6.0, 6.1, 6.3, 6.5, 6.7, 6.9, 7.1, 7.3, 7.5, 7.7, 7.8, 8.0, 8.2, 8.3, 8.4, 8.5, 8.4],
    [8.4, 8.6, 8.8, 9.0, 9.1, 9.2, 9.4, 9.5, 9.6, 9.8, 9.9, 10.0, 10.1, 10.2, 10.4, 10.5, 10.6, 10.7, 10.8],
    [10.8, 10.9, 11.0, 11.1, 11.2, 11.1, 11.0, 10.9, 11.0, 11.1, 11.2, 11.1, 11.2, 11.3, 11.3, 11.2, 11.3, 11.4, 11.4],
    [11.4, 11.3, 11.3, 11.3, 11.2, 11.3, 11.2, 11.2, 11.3, 11.3, 11.4, 11.4, 11.5, 11.5, 11.4, 11.3, 11.3, 11.3, 11.3],
    [10.8, 10.7, 10.6, 10.5, 10.4, 10.3, 10.4, 10.5, 10.4, 10.4, 10.3, 10.4, 10.4, 10.5, 10.6, 10.6, 10.5, 10.5, 10.5],
]
pred_haro_lo = [
    [-1.0, -0.9, -0.9, -0.8, -0.8, -0.7, -0.7, -0.6, -0.6, -0.5, -0.5, -0.4, -0.3, -0.2, -0.1, 0.0, 0.1, 0.2, 0.2],
    [0.2, 0.3, 0.3, 0.4, 0.5, 0.6, 0.6, 0.7, 0.8, 0.9, 1.0, 1.1, 1.2, 1.3, 1.4, 1.5, 1.6, 1.7, 1.8],
    [1.7, 1.8, 1.9, 2.0, 2.1, 2.2, 2.3, 2.4, 2.5, 2.6, 2.7, 2.8, 2.8, 2.9, 3.0, 3.0, 3.1, 3.1, 3.2],
    [3.4, 3.4, 3.5, 3.5, 3.6, 3.6, 3.7, 3.7, 3.8, 3.8, 3.9, 3.9, 4.0, 4.0, 4.1, 4.1, 4.2, 4.2, 4.2],
    [4.3, 4.3, 4.3, 4.3, 4.4, 4.3, 4.4, 4.4, 4.4, 4.5, 4.5, 4.5, 4.6, 4.5, 4.6, 4.5, 4.6, 4.5, 4.5],
    [4.1, 4.1, 4.0, 4.0, 4.1, 4.1, 4.1, 4.2, 4.2, 4.2, 4.2, 4.3, 4.3, 4.3, 4.3, 4.2, 4.2, 4.2, 4.2],
]

oscar_lines = [(oscar_u45, oscar_u45_lo), (oscar_u75, oscar_u75_lo), (oscar_u105, oscar_u105_lo),
               (oscar_u135, oscar_u135_lo), (oscar_u165, oscar_u165_lo), (oscar_u195, oscar_u195_lo),
               (oscar_u225, oscar_u225_lo)]
haro_lines = [(haro_u45, haro_u45_lo), (haro_u75, haro_u75_lo), (haro_u105, haro_u105_lo),
              (haro_u135, haro_u135_lo), (haro_u165, haro_u165_lo), (haro_u195, haro_u195_lo),
              (haro_u225, haro_u225_lo)]


def flat(rows):
    return np.concatenate([np.asarray(r, dtype=float) for r in rows])


def mark_rounds(ax):
    trans = mtransforms.blended_transform_factory(ax.transData, ax.transAxes)
    for i, s in enumerate(round_starts):
        ax.axvline(s, color="gray", linestyle=":", linewidth=0.9)
        ax.text(s + 3, 0.965, f"R{i + 1}", transform=trans, va="top", ha="left",
                color="#666666", fontsize=8.5)


def prob_panel(ax, lines, title):
    for label, color, (mid, lo) in zip(thresholds, colors, lines):
        mid, lo = flat(mid), flat(lo)
        ax.fill_between(t, lo, mid, color=color, alpha=0.1)
        ax.plot(t, lo, linestyle=":", color=color, linewidth=1.1, alpha=0.6)
        ax.plot(t, mid, color=color, linewidth=1.7, alpha=0.8, label=label)
    mark_rounds(ax)
    ax.set_ylim(0, 1.15)
    ax.set_yticks(np.arange(0, 1.151, 0.05))
    ax.yaxis.set_major_formatter(FormatStrFormatter("%.2f"))
    ax.set_ylabel("Prob", fontsize=7)
    ax.set_title(title, fontsize=10)
    ax.grid(axis="y", alpha=0.3)
    ax.tick_params(labelsize=7)
    ax.legend(loc="upper right", ncol=4, fontsize=6)


fig, (ax1, ax2, ax3) = plt.subplots(3, 1, figsize=(14, 10), dpi=150, sharex=True,
                                    gridspec_kw={"height_ratios": [3, 3, 2]})
fig.subplots_adjust(left=0.045, right=0.989, top=0.966, bottom=0.055, hspace=0.145)

prob_panel(ax1, oscar_lines,
           "OSCAR COLLAZO \u2014 Power Strikes Landed R8 Under Full Fight (Event 16186)")
prob_panel(ax2, haro_lines,
           "JESUS HARO \u2014 Power Strikes Landed R8 Under Full Fight (Event 16186)")

# bottom: counts
ax3.fill_between(t, flat(pred_oscar_lo), flat(pred_oscar_hi), color="red", alpha=0.15)
ax3.fill_between(t, flat(pred_haro_lo), flat(pred_haro_hi), color="blue", alpha=0.15)
ax3.plot(t, flat(truth_oscar), color="red", linewidth=2, alpha=0.75,
         label="Truth OSCAR COLLAZO: 38")
ax3.plot(t, flat(truth_haro), color="blue", linewidth=2, alpha=0.75,
         label="Truth JESUS HARO: 8")
ax3.plot(t, flat(pred_oscar), linestyle=":", color="red", linewidth=2, alpha=0.6,
         label="Predicted OSCAR COLLAZO: 6.9")
ax3.plot(t, flat(pred_haro), linestyle=":", color="blue", linewidth=2, alpha=0.6,
         label="Predicted JESUS HARO: 1.3")
mark_rounds(ax3)
ax3.set_yticks(np.arange(0, 41, 5))
ax3.set_ylabel("Count", fontsize=8)
ax3.set_xlabel("Fight time (seconds)", fontsize=10)
ax3.grid(axis="y", alpha=0.3)
ax3.tick_params(labelsize=7)
ax3.legend(loc="upper left", fontsize=7)

fig.savefig("out.png", dpi=150)
